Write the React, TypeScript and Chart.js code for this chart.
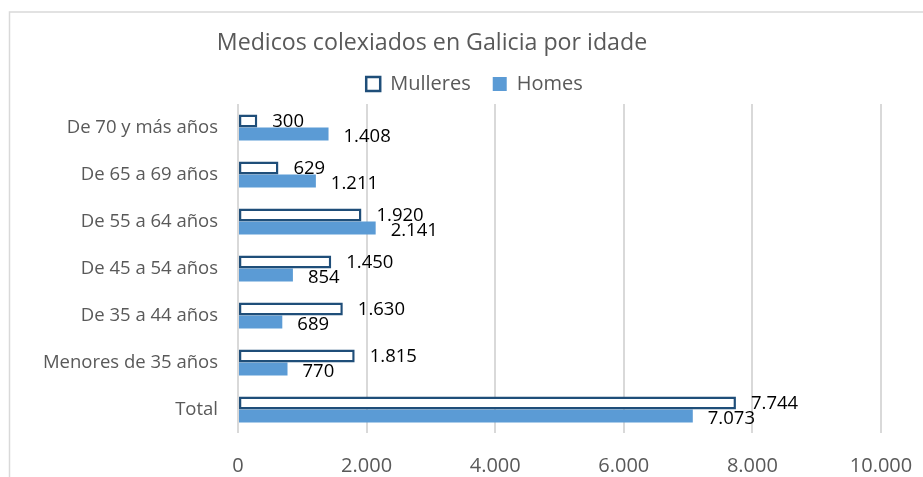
import React, { useEffect, useRef } from 'react';
import { Chart, registerables } from 'chart.js';

Chart.register(...registerables);

const chartTitle = 'Medicos colexiados en Galicia por idade';
const categories = [
  'De 70 y más años',
  'De 65 a 69 años',
  'De 55 a 64 años',
  'De 45 a 54 años',
  'De 35 a 44 años',
  'Menores de 35 años',
  'Total',
];
const seriesNames = ['Mulleres', 'Homes'];
const mulleres = [300, 629, 1920, 1450, 1630, 1815, 7744];
const homes = [1408, 1211, 2141, 854, 689, 770, 7073];
const xMin = 0;
const xMax = 10000;
const xStep = 2000;

const fmt = (v: number) => String(v).replace(/\B(?=(\d{3})+(?!\d))/g, '.');

const FONT = '"Open Sans", "DejaVu Sans", sans-serif';
const GRAY = '#595959';

const framePlugin = {
  id: 'frame',
  beforeDraw(chart: any) {
    const { ctx, width, height } = chart;
    ctx.save();
    ctx.fillStyle = '#FFFFFF';
    ctx.fillRect(0, 0, width, height);
    ctx.strokeStyle = '#D9D9D9';
    ctx.lineWidth = 1.5;
    ctx.strokeRect(9.5, 12, width + 20, height + 20);
    ctx.restore();
  },
};

// centre the legend row where the original places it
const legendShiftPlugin = {
  id: 'legendShift',
  afterLayout(chart: any) {
    const lg = chart.legend;
    if (!lg) return;
    const shift = 474.5 - (lg.left + lg.right) / 2;
    lg.left += shift;
    lg.right += shift;
  },
};

const titlePlugin = {
  id: 'customTitle',
  afterDraw(chart: any) {
    const { ctx } = chart;
    ctx.save();
    ctx.font = `23.2px ${FONT}`;
    ctx.fillStyle = GRAY;
    ctx.textAlign = 'center';
    ctx.textBaseline = 'alphabetic';
    ctx.fillText(chartTitle, 432, 50);
    ctx.restore();
  },
};

const dataLabelPlugin = {
  id: 'dataLabels',
  afterDatasetsDraw(chart: any) {
    const { ctx } = chart;
    ctx.save();
    ctx.font = `18.5px ${FONT}`;
    ctx.fillStyle = '#000000';
    ctx.textAlign = 'left';
    ctx.textBaseline = 'middle';
    chart.data.datasets.forEach((ds: any, di: number) => {
      const meta = chart.getDatasetMeta(di);
      meta.data.forEach((el: any, i: number) => {
        ctx.fillText(fmt(ds.data[i]), el.x + 15, el.y + (di === 0 ? 1 : 3));
      });
    });
    ctx.restore();
  },
};

export default function App() {
  const canvasRef = useRef<HTMLCanvasElement | null>(null);

  useEffect(() => {
    if (!canvasRef.current) return;
    Chart.defaults.font.family = FONT;
    const chart = new Chart(canvasRef.current, {
      type: 'bar',
      data: {
        labels: categories,
        datasets: [
          {
            label: seriesNames[0],
            data: mulleres,
            backgroundColor: '#FFFFFF',
            borderColor: '#1F4E79',
            borderWidth: 2.5,
            borderSkipped: false,
            categoryPercentage: 0.55,
            barPercentage: 1,
          },
          {
            label: seriesNames[1],
            data: homes,
            backgroundColor: '#5B9BD5',
            borderWidth: 0,
            categoryPercentage: 0.55,
            barPercentage: 1,
          },
        ],
      },
      options: {
        indexAxis: 'y',
        animation: false,
        responsive: false,
        maintainAspectRatio: false,
        devicePixelRatio: 1,
        layout: { padding: { top: 52, left: 30, right: 42, bottom: 0 } },
        plugins: {
          title: { display: false },
          tooltip: { enabled: false },
          legend: {
            position: 'top',
            maxHeight: 52,
            labels: {
              boxWidth: 14,
              boxHeight: 14,
              padding: 22,
              color: GRAY,
              font: { size: 20, family: FONT },
            },
          },
        },
        scales: {
          x: {
            min: xMin,
            max: xMax,
            ticks: {
              stepSize: xStep,
              color: GRAY,
              font: { size: 20, family: FONT },
              padding: 21,
              callback: (v: any) => fmt(Number(v)),
            },
            grid: { color: '#D9D9D9', lineWidth: 2, drawTicks: false },
            border: { display: false },
            afterFit: (s: any) => {
              s.height = 44;
              s.paddingLeft = 0;
              s.paddingRight = 0;
            },
          },
          y: {
            ticks: {
              color: GRAY,
              font: { size: 18.5, family: FONT },
              padding: 20,
            },
            grid: { display: false, drawTicks: false },
            border: { display: false },
            afterFit: (s: any) => {
              s.width = 208;
            },
          },
        },
      },
      plugins: [framePlugin, legendShiftPlugin, titlePlugin, dataLabelPlugin],
    } as any);
    return () => chart.destroy();
  }, []);

  return (
    <div style={{ position: 'fixed', left: 0, top: 0, width: 923, height: 477, background: '#fff' }}>
      <canvas ref={canvasRef} width={923} height={477} style={{ display: 'block' }} />
    </div>
  );
}
